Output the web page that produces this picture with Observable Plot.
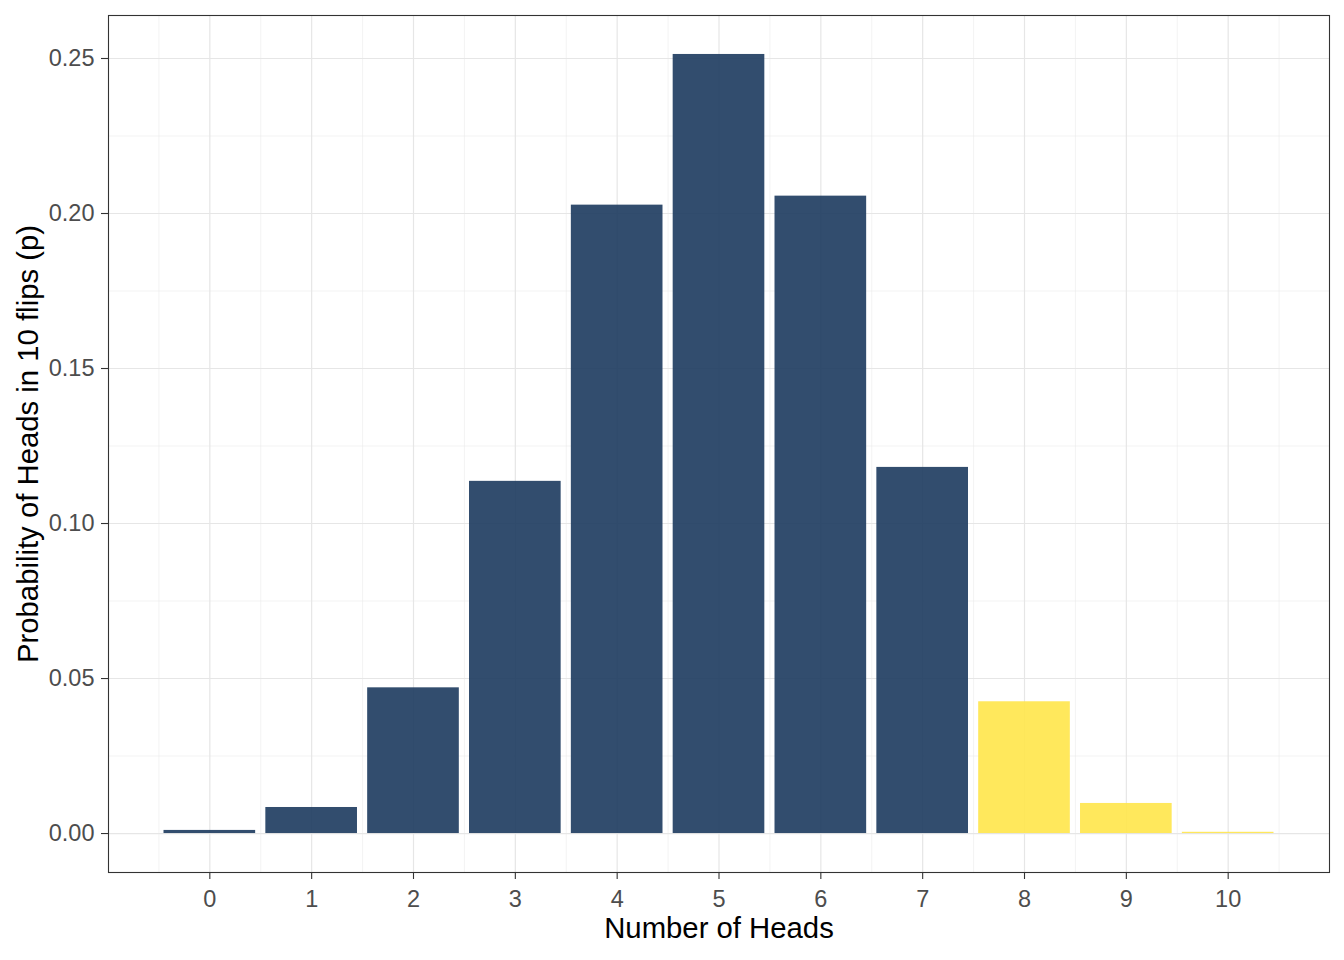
<!DOCTYPE html>
<html>
<head>
<meta charset="utf-8">
<script src="https://cdn.jsdelivr.net/npm/d3@7"></script>
<script src="https://cdn.jsdelivr.net/npm/@observablehq/plot@0.6"></script>
<style>
  body { margin: 0; background: #fff; }
</style>
</head>
<body>
<div id="chart"></div>
<script>
const heads = [0, 1, 2, 3, 4, 5, 6, 7, 8, 9, 10];
const probs = [0.0010, 0.0084, 0.0470, 0.1136, 0.2027, 0.2513, 0.2056, 0.1181, 0.0425, 0.0097, 0.0004];
const extreme = [false, false, false, false, false, false, false, false, true, true, true];
const xTicks = [0, 1, 2, 3, 4, 5, 6, 7, 8, 9, 10];
const xMinor = [-0.5, 0.5, 1.5, 2.5, 3.5, 4.5, 5.5, 6.5, 7.5, 8.5, 9.5, 10.5];
const yTicks = [0, 0.05, 0.10, 0.15, 0.20, 0.25];
const yMinor = [0.025, 0.075, 0.125, 0.175, 0.225];
const xTitle = "Number of Heads";
const yTitle = "Probability of Heads in 10 flips (p)";

const data = heads.map((k, i) => ({k, p: probs[i], ext: extreme[i]}));
const barHalf = 0.45;

const chart = Plot.plot({
  width: 1344,
  height: 960,
  marginLeft: 108,
  marginRight: 15,
  marginTop: 15,
  marginBottom: 88,
  style: {fontFamily: "'Liberation Sans', Arial, sans-serif", background: "#fff"},
  x: {domain: [-0.995, 10.995]},
  y: {domain: [-0.01257, 0.26387]},
  color: {domain: [false, true], range: ["#1c3a5e", "#ffe54a"]},
  marks: [
    Plot.gridX(xMinor, {stroke: "#ebebeb", strokeOpacity: 1, strokeWidth: 0.6}),
    Plot.gridY(yMinor, {stroke: "#ebebeb", strokeOpacity: 1, strokeWidth: 0.6}),
    Plot.gridX(xTicks, {stroke: "#e6e6e6", strokeOpacity: 1, strokeWidth: 1.2}),
    Plot.gridY(yTicks, {stroke: "#e6e6e6", strokeOpacity: 1, strokeWidth: 1.2}),
    Plot.rectY(data, {
      x1: d => d.k - barHalf,
      x2: d => d.k + barHalf,
      y1: 0,
      y2: "p",
      fill: "ext",
      fillOpacity: 0.9
    }),
    Plot.frame({stroke: "#333333", strokeWidth: 1.1}),
    Plot.axisX(xTicks, {
      tickSize: 7, tickPadding: 11, stroke: "#333333", strokeWidth: 1.1,
      fontSize: 23.5, fill: "#4d4d4d", label: null
    }),
    Plot.axisY(yTicks, {
      tickSize: 7, tickPadding: 7, stroke: "#333333", strokeWidth: 1.1,
      fontSize: 23.5, fill: "#4d4d4d", tickFormat: d3.format(".2f"), label: null
    }),
    Plot.text([xTitle], {
      text: d => d, frameAnchor: "bottom", dy: 65, fontSize: 29.3, fill: "#000"
    }),
    Plot.text([yTitle], {
      text: d => d, frameAnchor: "left", dx: -80, rotate: -90, textAnchor: "middle", fontSize: 29.3, fill: "#000"
    })
  ]
});
document.getElementById("chart").appendChild(chart);
</script>
</body>
</html>
